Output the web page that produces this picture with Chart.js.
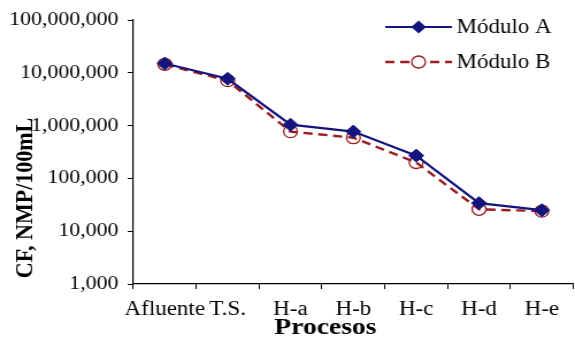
<!DOCTYPE html>
<html lang="es">
<head>
<meta charset="utf-8">
<title>CF por proceso</title>
<script src="https://cdn.jsdelivr.net/npm/chart.js@4.4.1/dist/chart.umd.min.js"></script>
<style>
  html, body { margin: 0; padding: 0; background: #fff; overflow: hidden; }
  /* the original picture is stretched sideways a little */
  #wrap { width: 506px; height: 341px; transform: scaleX(1.15); transform-origin: 0 0; }
</style>
</head>
<body>
<div id="wrap"><canvas id="cfChart" width="506" height="341"></canvas></div>
<script>
const procesos = ['Afluente', 'T.S.', 'H-a', 'H-b', 'H-c', 'H-d', 'H-e'];
const moduloA = [15000000, 7700000, 1040000, 770000, 270000, 34000, 25000];
const moduloB = [14500000, 7100000, 770000, 590000, 200000, 26000, 24000];
const yTicks = [1000, 10000, 100000, 1000000, 10000000, 100000000];

const SERIF = '"Liberation Serif", "Times New Roman", serif';
const colorA = '#14147E';
const colorB = '#9A1C1E';

// axis titles + legend with line and marker, drawn by hand
const extras = {
    id: 'extras',
    afterDraw(chart) {
        const c = chart.ctx;
        const xs = chart.scales.x;
        c.save();
        c.fillStyle = '#000';

        c.font = 'bold 24px ' + SERIF;
        c.textAlign = 'center';
        c.textBaseline = 'alphabetic';
        const midX = (xs.getPixelForValue(2) + xs.getPixelForValue(3)) / 2 + 3;
        c.fillText('Procesos', midX, 334);

        c.translate(22, 198);
        c.rotate(-Math.PI / 2);
        c.font = 'bold 22px ' + SERIF;
        c.textBaseline = 'middle';
        c.fillText('CF, NMP/100mL', 0, 0);
        c.restore();

        // legend
        c.save();
        chart.data.datasets.forEach((ds, i) => {
            const ly = 27 + i * 35;
            c.strokeStyle = ds.borderColor;
            c.lineWidth = ds.borderWidth;
            c.setLineDash(ds.borderDash || []);
            c.beginPath();
            c.moveTo(335, ly);
            c.lineTo(393, ly);
            c.stroke();
            c.setLineDash([]);
            const mx = 364;
            c.beginPath();
            if (ds.pointStyle === 'rectRot') {
                const r = ds.pointRadius;
                c.moveTo(mx, ly - r);
                c.lineTo(mx + r, ly);
                c.lineTo(mx, ly + r);
                c.lineTo(mx - r, ly);
                c.closePath();
                c.fillStyle = ds.pointBackgroundColor;
                c.fill();
            } else {
                c.arc(mx, ly, ds.pointRadius, 0, Math.PI * 2);
                c.fillStyle = '#fff';
                c.fill();
                c.lineWidth = ds.pointBorderWidth;
                c.strokeStyle = ds.pointBorderColor;
                c.stroke();
            }
            c.fillStyle = '#000';
            c.font = '20px ' + SERIF;
            c.textAlign = 'left';
            c.textBaseline = 'middle';
            c.fillText(ds.label, 397, ly + 1);
        });
        c.restore();
    }
};

const ctx = document.getElementById('cfChart').getContext('2d');
new Chart(ctx, {
    type: 'line',
    data: {
        labels: procesos,
        datasets: [
            {
                label: 'Módulo A',
                data: moduloA,
                borderColor: colorA,
                borderWidth: 2.2,
                pointStyle: 'rectRot',
                pointRadius: 6.5,
                pointBackgroundColor: colorA,
                pointBorderColor: colorA,
                pointBorderWidth: 1
            },
            {
                label: 'Módulo B',
                data: moduloB,
                borderColor: colorB,
                borderWidth: 2.4,
                borderDash: [8, 5],
                pointStyle: 'circle',
                pointRadius: 6,
                pointBackgroundColor: 'rgba(255,255,255,0)',
                pointBorderColor: colorB,
                pointBorderWidth: 1.3
            }
        ]
    },
    options: {
        responsive: false,
        animation: false,
        layout: { padding: { top: 20, right: 0, bottom: 0, left: 0 } },
        plugins: {
            legend: { display: false },
            tooltip: { enabled: false }
        },
        scales: {
            x: {
                offset: true,
                grid: { offset: true, drawOnChartArea: false, drawTicks: true, tickLength: 5, color: '#000' },
                border: { display: true, color: '#000', width: 1.2 },
                ticks: { color: '#000', font: { family: SERIF, size: 20 }, padding: 9, maxRotation: 0, autoSkip: false },
                afterFit: (s) => { s.height = 57; }
            },
            y: {
                type: 'logarithmic',
                min: 1000,
                max: 100000000,
                afterBuildTicks: (s) => { s.ticks = yTicks.map(v => ({ value: v })); },
                grid: { drawOnChartArea: false, drawTicks: true, tickLength: 5, color: '#000' },
                border: { display: true, color: '#000', width: 1.2 },
                ticks: {
                    color: '#000',
                    font: { family: SERIF, size: 19 },
                    padding: 8,
                    callback: (v) => Number(v).toLocaleString('en-US')
                },
                afterFit: (s) => { s.width = 116; }
            }
        }
    },
    plugins: [extras]
});
</script>
</body>
</html>
